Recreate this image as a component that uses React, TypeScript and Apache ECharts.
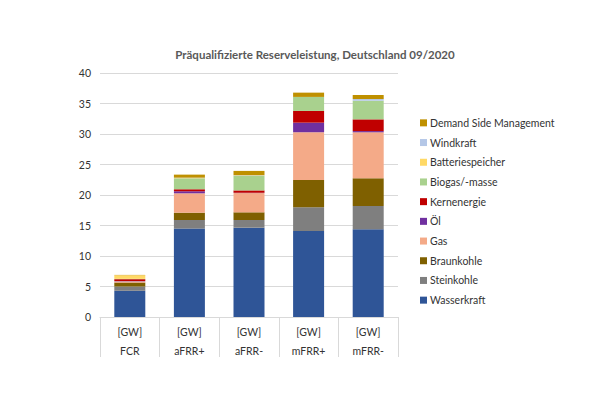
import React, { useEffect, useRef } from "react";
import * as echarts from "echarts";

const categories = ["FCR", "aFRR+", "aFRR-", "mFRR+", "mFRR-"];
const unitLabel = "[GW]";
const seriesNames = [
  "Wasserkraft",
  "Steinkohle",
  "Braunkohle",
  "Gas",
  "Öl",
  "Kernenergie",
  "Biogas/-masse",
  "Batteriespeicher",
  "Windkraft",
  "Demand Side Management",
];
const wasserkraft = [4.3, 14.5, 14.64, 14.1, 14.38];
const steinkohle = [0.7, 1.4, 1.26, 3.89, 3.82];
const braunkohle = [0.65, 1.2, 1.26, 4.48, 4.54];
const gas = [0.2, 3.18, 3.16, 7.82, 7.54];
const oel = [0.05, 0.33, 0.05, 1.57, 0.2];
const kernenergie = [0.3, 0.33, 0.38, 1.92, 1.92];
const biogas = [0.05, 1.8, 2.4, 2.3, 3.05];
const batteriespeicher = [0.6, 0.05, 0.05, 0.0, 0.0];
const windkraft = [0.0, 0.05, 0.05, 0.0, 0.28];
const dsm = [0.05, 0.5, 0.7, 0.7, 0.66];
const yTicks = { min: 0, max: 40, interval: 5 };

const seriesValues = [
  wasserkraft,
  steinkohle,
  braunkohle,
  gas,
  oel,
  kernenergie,
  biogas,
  batteriespeicher,
  windkraft,
  dsm,
];
const colors = [
  "#2F5597",
  "#7F7F7F",
  "#7F6000",
  "#F4AA88",
  "#7030A0",
  "#C00000",
  "#A9D18E",
  "#FFD966",
  "#B4C7E7",
  "#BF9000",
];

const FONT = "Lato";

export default function App() {
  const ref = useRef<HTMLDivElement>(null);
  useEffect(() => {
    document.body.style.margin = "0";
    const chart = echarts.init(ref.current!, undefined, { renderer: "svg" });
    chart.setOption({
      animation: false,
      backgroundColor: "#ffffff",
      title: {
        text: "Präqualifizierte Reserveleistung, Deutschland 09/2020",
        left: 310,
        textAlign: "center",
        top: 43,
        textStyle: {
          fontFamily: FONT,
          fontSize: 11.5,
          fontWeight: "bold",
          color: "#595959",
        },
      },
      legend: {
        orient: "vertical",
        left: 415,
        top: 111,
        itemWidth: 7,
        itemHeight: 7,
        itemGap: 6,
        icon: "rect",
        data: [...seriesNames].reverse(),
        textStyle: {
          fontFamily: FONT,
          fontSize: 10.5,
          color: "#333333",
          lineHeight: 13.7,
          padding: [0, 0, 0, -2],
        },
      },
      grid: { left: 100, right: 202, top: 73, bottom: 80, containLabel: false },
      xAxis: {
        type: "category",
        data: categories,
        axisLine: { show: true, lineStyle: { color: "#d9d9d9", width: 1 } },
        axisTick: {
          show: true,
          interval: 0,
          length: 40,
          lineStyle: { color: "#d9d9d9", width: 1 },
        },
        axisLabel: {
          interval: 0,
          margin: 5,
          fontFamily: FONT,
          fontSize: 10.5,
          color: "#333333",
          lineHeight: 19,
          formatter: (v: string) => unitLabel + "\n" + v,
        },
      },
      yAxis: {
        type: "value",
        min: yTicks.min,
        max: yTicks.max,
        interval: yTicks.interval,
        axisLine: { show: false },
        axisTick: { show: false },
        splitLine: { lineStyle: { color: "#d9d9d9", width: 1 } },
        axisLabel: {
          margin: 9,
          fontFamily: FONT,
          fontSize: 10.5,
          color: "#333333",
        },
      },
      series: seriesNames.map((name, i) => ({
        name,
        type: "bar",
        stack: "total",
        barWidth: 31,
        data: seriesValues[i],
        itemStyle: { color: colors[i] },
      })),
    });
    return () => chart.dispose();
  }, []);
  return <div ref={ref} style={{ width: 600, height: 397 }} />;
}
